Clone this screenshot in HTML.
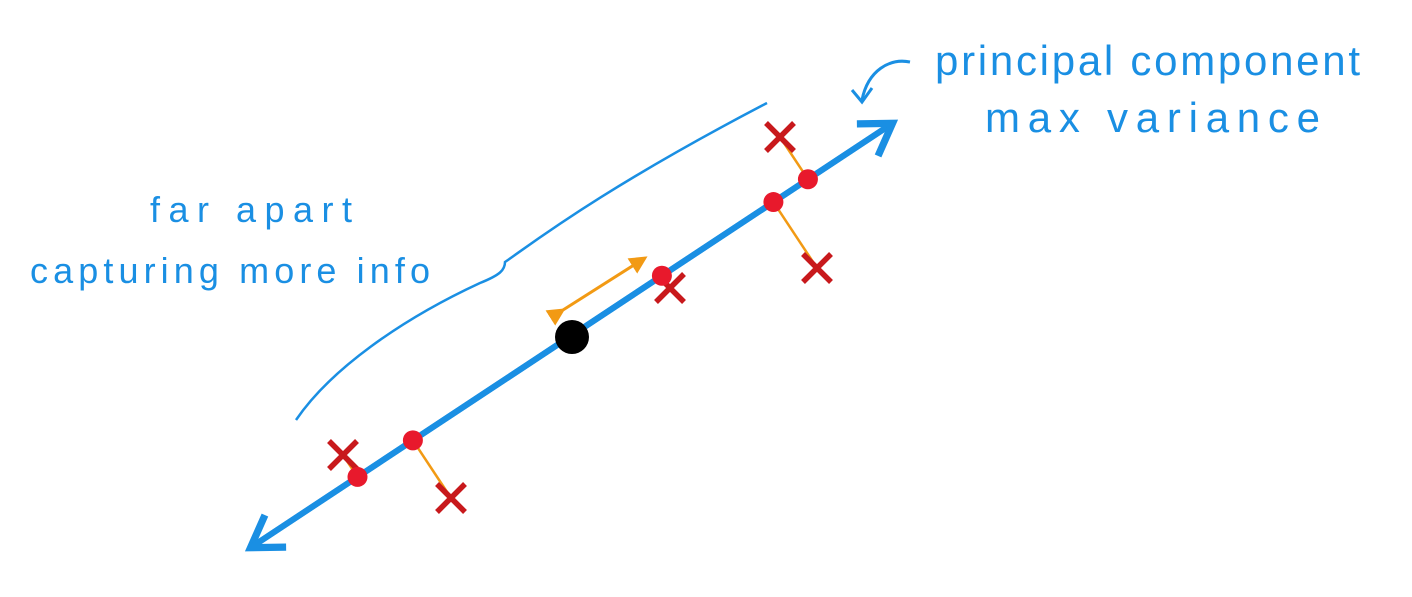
<!DOCTYPE html>
<html><head><meta charset="utf-8"><style>
html,body{margin:0;padding:0;background:#fff;}
svg{display:block;}
.lbl{font-family:"Liberation Sans",sans-serif;fill:#1a8fe3;}
</style></head><body>
<svg id="chart" width="1412" height="597" viewBox="0 0 1412 597">
<defs>
<marker id="ah" markerWidth="8" markerHeight="8" refX="5" refY="4" orient="auto" markerUnits="strokeWidth">
<path d="M0.5,0.8 L5.5,4 L0.5,7.2" fill="none" stroke="#1a8fe3" stroke-width="1.2"/></marker>
<marker id="oa" markerWidth="6" markerHeight="6" refX="5" refY="3" orient="auto" markerUnits="strokeWidth">
<path d="M0,0 L6,3 L0,6 z" fill="#f29a14"/></marker>
</defs>
<path d="M296,420 C330,370 400,320 480,283 C500,275 505,270 505,262 C530,245 600,190 767,103" fill="none" stroke="#1a8fe3" stroke-width="2.5"/>
<path d="M910,62 C890,58 868,70 862,100" fill="none" stroke="#1a8fe3" stroke-width="3"/>
<path d="M852,90 L862,102 L872,88" fill="none" stroke="#1a8fe3" stroke-width="3"/>
<text class="lbl" x="935" y="75" font-size="42" textLength="425" lengthAdjust="spacing">principal component</text>
<text class="lbl" x="985" y="132" font-size="42" textLength="335" lengthAdjust="spacing">max variance</text>
<text class="lbl" x="150" y="222" font-size="36" textLength="202" lengthAdjust="spacing">far apart</text>
<text class="lbl" x="30" y="283" font-size="36" textLength="400" lengthAdjust="spacing">capturing more info</text>
<g id="marks"></g>
</svg>
<script>
// data coordinates (x: 0..141.2, y: 0..59.7)
const axisStart = [25.3, 5.1];
const axisEnd = [89.0, 47.2];
const center = [57.2, 26.0];
const pointsX = [34.3, 45.1, 67.0, 81.7, 78.0];
const pointsY = [14.2, 9.9, 30.9, 32.9, 46.0];
const spreadFrom = [56.3, 28.7];
const spreadTo = [64.5, 33.9];
const sx = v => v * 10;
const sy = v => 597 - v * 10;
const NS = 'http://www.w3.org/2000/svg';
const g = document.getElementById('marks');
function mk(tag, attrs){const e=document.createElementNS(NS,tag);for(const k in attrs)e.setAttribute(k,attrs[k]);g.appendChild(e);return e;}
const ax = mk('line',{x1:sx(axisEnd[0]),y1:sy(axisEnd[1]),x2:sx(axisStart[0]),y2:sy(axisStart[1]),stroke:'#1a8fe3','stroke-width':6,'marker-end':'url(#ah)','stroke-linecap':'round'});


const ax2 = mk('line',{x1:sx(axisStart[0]),y1:sy(axisStart[1]),x2:sx(axisEnd[0]),y2:sy(axisEnd[1]),stroke:'#1a8fe3','stroke-width':6,'marker-end':'url(#ah)','stroke-linecap':'round'});


const dx = sx(axisEnd[0])-sx(axisStart[0]), dy = sy(axisEnd[1])-sy(axisStart[1]);
const L2 = dx*dx+dy*dy;
for (let i=0;i<pointsX.length;i++){
  const px=sx(pointsX[i]), py=sy(pointsY[i]);
  const t=((px-sx(axisStart[0]))*dx+(py-sy(axisStart[1]))*dy)/L2;
  const qx=sx(axisStart[0])+t*dx, qy=sy(axisStart[1])+t*dy;
  const pl=mk('line',{x1:qx,y1:qy,x2:px,y2:py,stroke:'#f29a14','stroke-width':2.5});
  
  
  const s=14;
  const xm=mk('path',{d:`M${px-s},${py-s} L${px+s},${py+s} M${px+s},${py-s} L${px-s},${py+s}`,stroke:'#c8191c','stroke-width':5.5,fill:'none'});
  
  
  const d=mk('circle',{cx:qx,cy:qy,r:10,fill:'#e8192c'});
  
  
}
const sp=mk('line',{x1:sx(spreadFrom[0]),y1:sy(spreadFrom[1]),x2:sx(spreadTo[0]),y2:sy(spreadTo[1]),stroke:'#f29a14','stroke-width':3,'marker-start':'url(#oa)','marker-end':'url(#oa)'});


const c=mk('circle',{cx:sx(center[0]),cy:sy(center[1]),r:17,fill:'#000'});


</script>
</body></html>
